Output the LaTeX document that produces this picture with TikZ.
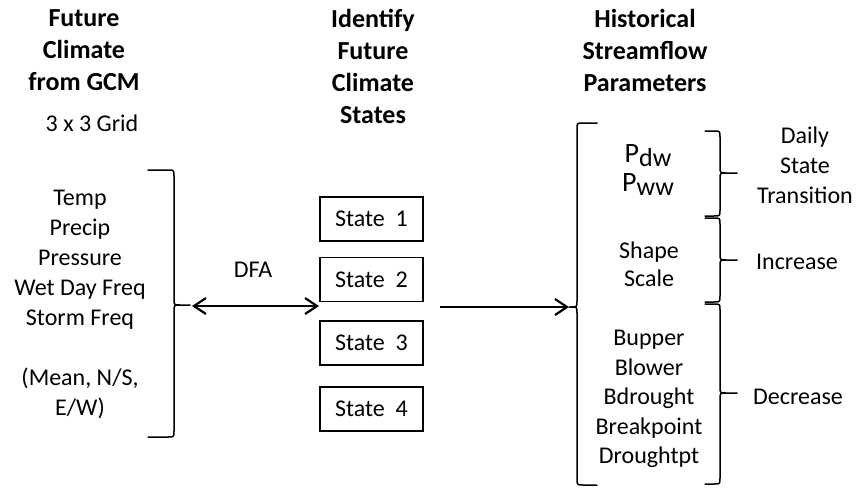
\documentclass[tikz,border=0pt]{standalone}
\usepackage{fontspec}
\setmainfont{Carlito}
\usetikzlibrary{arrows.meta}
\tikzset{
  brace/.style={line width=1.5pt, line join=round, line cap=round},
  conn/.style={line width=2.2pt},
  hdr/.style={align=center, inner sep=0pt, font=\fontsize{26}{32}\selectfont\bfseries},
  txt/.style={align=center, inner sep=0pt, font=\fontsize{24}{30}\selectfont},
  statebox/.style={draw, line width=1.2pt, minimum width=103pt, minimum height=44pt, inner sep=0pt, font=\fontsize{24}{30}\selectfont},
  barb/.tip={Straight Barb[length=12pt,width=16pt,line width=2.2pt]}
}
% right-pointing brace: hook-end x, vertical x, tip x, top, mid, bottom
\newcommand\BraceRight[6]{%
  \draw[brace] (#1,#4) -- ({#2-6},#4) .. controls (#2,#4) .. (#2,{#4+6}) -- (#2,{#5-6})
    .. controls (#2,#5) .. ({#2+6},#5) -- (#3,#5) -- ({#2+6},#5)
    .. controls (#2,#5) .. (#2,{#5+6}) -- (#2,{#6-6})
    .. controls (#2,#6) .. ({#2-6},#6) -- (#1,#6);}
\newcommand\BraceLeft[6]{%
  \draw[brace] (#1,#4) -- ({#2+6},#4) .. controls (#2,#4) .. (#2,{#4+6}) -- (#2,{#5-6})
    .. controls (#2,#5) .. ({#2-6},#5) -- (#3,#5) -- ({#2-6},#5)
    .. controls (#2,#5) .. (#2,{#5+6}) -- (#2,{#6-6})
    .. controls (#2,#6) .. ({#2+6},#6) -- (#1,#6);}
\newcommand\Psub[1]{P{\fontsize{26}{26}\selectfont\raisebox{-4pt}{#1}}}
\begin{document}
\begin{tikzpicture}[x=1pt,y=-1pt]
\useasboundingbox (0,0) rectangle (857,493);

% headers
\node[hdr] (h1) at (84,50) {Future\\Climate\\from GCM};
\node[hdr] (h2) at (373,66) {Identify\\Future\\Climate\\States};
\node[hdr] (h3) at (645,50) {Historical\\Streamflow\\Parameters};

\node[txt] (grid) at (92,123) {3 x 3 Grid};

% left list
\node[txt] (vars) at (80,304) {Temp\\Precip\\Pressure\\Wet Day Freq\\Storm Freq\\[30pt](Mean, N/S,\\E/W)};
\BraceRight{148}{174}{190}{170}{305}{437}

\node[txt] (dfa) at (253,270) {DFA};

% states
\node[statebox] (s1) at (371.5,219) {State~~1};
\node[statebox] (s2) at (371.5,279.5) {State~~2};
\node[statebox] (s3) at (371.5,343) {State~~3};
\node[statebox] (s4) at (371.5,409) {State~~4};

\coordinate (dfaL) at (192,306);
\coordinate (dfaR) at (319,306);
\draw[conn, {barb}-{barb}] (dfaL) -- (dfaR);

\coordinate (outS) at (440,307);
\coordinate (bigTip) at (569,307);
\draw[conn, -{barb}] (outS) -- (bigTip);

% right big brace
\BraceLeft{597}{577}{569}{123}{307}{485}

% parameters
\node[txt, font=\fontsize{28}{29}\selectfont] (pp) at (648,170) {\Psub{dw}\\\Psub{ww}};
\node[txt, font=\fontsize{24}{28}\selectfont] (ss) at (649,264) {Shape\\Scale};
\node[txt, font=\fontsize{24}{29.5}\selectfont] (bb) at (649,399) {Bupper\\Blower\\Bdrought\\Breakpoint\\Droughtpt};

% small braces
\BraceRight{705}{720}{737}{131}{173}{216}
\BraceRight{705}{720}{737}{218}{260}{302}
\BraceRight{705}{720}{737}{304}{393}{484}

\node[txt] (daily) at (805,165) {Daily\\State\\Transition};
\node[txt] (inc) at (797,262) {Increase};
\node[txt] (dec) at (798,397) {Decrease};
\end{tikzpicture}
\end{document}
